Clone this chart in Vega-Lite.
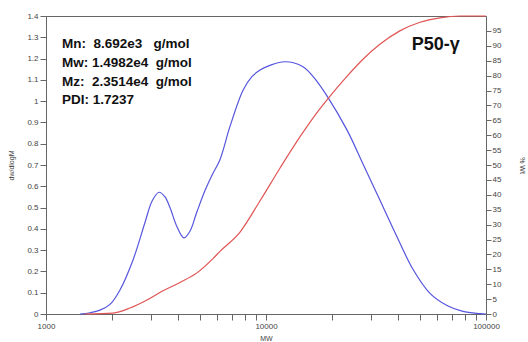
{
  "$schema": "https://vega.github.io/schema/vega-lite/v6.json",
  "width": 440,
  "height": 298,
  "autosize": {"type": "none"},
  "padding": {"left": 46, "top": 16, "right": 42, "bottom": 28},
  "background": "white",
  "config": {
    "font": "Liberation Sans",
    "view": {"stroke": "#666", "strokeWidth": 1},
    "axis": {"grid": false, "labelFontSize": 8, "labelColor": "#444", "tickColor": "#666", "domainColor": "#666", "tickSize": 5, "titleFontSize": 7, "titleFontWeight": "normal", "titleColor": "#444"}
  },
  "datasets": {
    "dw": [
      {"M": 1427, "v": 0},
      {"M": 1585, "v": 0.006},
      {"M": 1760, "v": 0.018},
      {"M": 1954, "v": 0.045},
      {"M": 2169, "v": 0.113},
      {"M": 2486, "v": 0.254},
      {"M": 2818, "v": 0.43},
      {"M": 3033, "v": 0.53},
      {"M": 3263, "v": 0.572},
      {"M": 3474, "v": 0.55},
      {"M": 3661, "v": 0.5},
      {"M": 3939, "v": 0.41},
      {"M": 4238, "v": 0.358},
      {"M": 4517, "v": 0.39},
      {"M": 4853, "v": 0.48},
      {"M": 5281, "v": 0.58},
      {"M": 5683, "v": 0.652},
      {"M": 6175, "v": 0.725},
      {"M": 6855, "v": 0.88},
      {"M": 7855, "v": 1.05},
      {"M": 8630, "v": 1.115},
      {"M": 9397, "v": 1.146},
      {"M": 10420, "v": 1.168},
      {"M": 12190, "v": 1.185},
      {"M": 14720, "v": 1.162},
      {"M": 16700, "v": 1.105},
      {"M": 18930, "v": 1.025},
      {"M": 23330, "v": 0.865},
      {"M": 27600, "v": 0.705},
      {"M": 32930, "v": 0.536},
      {"M": 39380, "v": 0.363},
      {"M": 46560, "v": 0.21},
      {"M": 55630, "v": 0.097},
      {"M": 66500, "v": 0.04},
      {"M": 78580, "v": 0.012},
      {"M": 93970, "v": 0.002},
      {"M": 100000, "v": 0}
    ],
    "cum": [
      {"M": 1503, "p": 0},
      {"M": 2016, "p": 0.3},
      {"M": 2409, "p": 2},
      {"M": 2877, "p": 4.7},
      {"M": 3404, "p": 7.8},
      {"M": 4062, "p": 10.6},
      {"M": 4853, "p": 13.8},
      {"M": 5741, "p": 18.6},
      {"M": 6175, "p": 21},
      {"M": 7621, "p": 27.5},
      {"M": 9397, "p": 38},
      {"M": 11587, "p": 49},
      {"M": 14286, "p": 59.5},
      {"M": 17220, "p": 68},
      {"M": 19140, "p": 72.3},
      {"M": 22850, "p": 79},
      {"M": 27600, "p": 85.5},
      {"M": 32930, "p": 90.5},
      {"M": 40580, "p": 95},
      {"M": 50120, "p": 97.9},
      {"M": 61790, "p": 99.4},
      {"M": 76210, "p": 100},
      {"M": 100000, "p": 100}
    ],
    "stats": [
      {"M": 1182, "v": 1.268, "t": "Mn:\u00a0\u00a08.692e3\u00a0\u00a0\u00a0g/mol"},
      {"M": 1182, "v": 1.181, "t": "Mw: 1.4982e4\u00a0\u00a0g/mol"},
      {"M": 1182, "v": 1.091, "t": "Mz:\u00a0\u00a02.3514e4\u00a0\u00a0g/mol"},
      {"M": 1182, "v": 1.005, "t": "PDI: 1.7237"}
    ],
    "label": [
      {"M": 45920, "v": 1.264, "t": "P50-γ"}
    ]
  },
  "layer": [
    {
      "data": {"name": "dw"},
      "mark": {"type": "line", "color": "#5555dd", "strokeWidth": 1.2, "interpolate": "catmull-rom"},
      "encoding": {
        "x": {"field": "M", "type": "quantitative", "scale": {"type": "log", "domain": [1000, 100000]},
          "axis": {"values": [1000, 2000, 3000, 4000, 5000, 6000, 7000, 8000, 9000, 10000, 20000, 30000, 40000, 50000, 60000, 70000, 80000, 90000, 100000],
            "labelExpr": "datum.value == 1000 || datum.value == 10000 || datum.value == 100000 ? datum.value : ''",
            "tickSize": 6, "labelPadding": 2, "title": "MW", "titlePadding": 4, "labelFlush": false}},
        "y": {"field": "v", "type": "quantitative", "scale": {"domain": [0, 1.4]},
          "axis": {"values": [0, 0.1, 0.2, 0.3, 0.4, 0.5, 0.6, 0.7, 0.8, 0.9, 1, 1.1, 1.2, 1.3, 1.4], "format": "~g", "title": "dw/dlogM", "tickSize": 6, "labelPadding": 2, "titlePadding": 12}}
      }
    },
    {
      "data": {"name": "cum"},
      "mark": {"type": "line", "color": "#e05555", "strokeWidth": 1.2, "interpolate": "monotone"},
      "encoding": {
        "x": {"field": "M", "type": "quantitative"},
        "y": {"field": "p", "type": "quantitative", "scale": {"domain": [0, 100]},
          "axis": {"orient": "right", "values": [0, 5, 10, 15, 20, 25, 30, 35, 40, 45, 50, 55, 60, 65, 70, 75, 80, 85, 90, 95], "title": "% Wt", "tickSize": 5, "labelPadding": 1, "titlePadding": 18}}
      }
    },
    {
      "data": {"name": "stats"},
      "mark": {"type": "text", "align": "left", "baseline": "middle", "fontSize": 13.5, "fontWeight": "bold", "color": "#111"},
      "encoding": {
        "x": {"field": "M", "type": "quantitative"},
        "y": {"field": "v", "type": "quantitative", "scale": {"domain": [0, 1.4]}, "axis": null},
        "text": {"field": "t"}
      }
    },
    {
      "data": {"name": "label"},
      "mark": {"type": "text", "align": "left", "baseline": "middle", "fontSize": 18, "fontWeight": "bold", "color": "#111"},
      "encoding": {
        "x": {"field": "M", "type": "quantitative"},
        "y": {"field": "v", "type": "quantitative", "scale": {"domain": [0, 1.4]}, "axis": null},
        "text": {"field": "t"}
      }
    }
  ],
  "resolve": {"scale": {"y": "independent"}}
}
